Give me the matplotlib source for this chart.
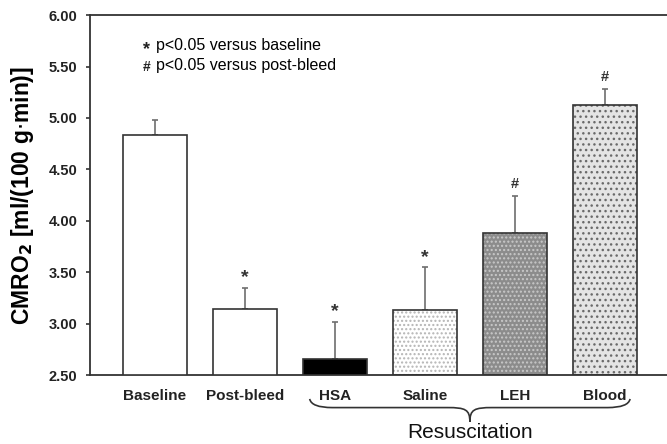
import matplotlib
matplotlib.use("Agg")
import matplotlib.pyplot as plt
from matplotlib.path import Path
from matplotlib.patches import PathPatch
import matplotlib.transforms as mtransforms
import numpy as np

# ── data ──
categories = ["Baseline", "Post-bleed", "HSA", "Saline", "LEH", "Blood"]
cmro2_mean = [4.83, 3.14, 2.66, 3.13, 3.88, 5.13]
cmro2_sd = [0.15, 0.21, 0.36, 0.42, 0.36, 0.15]
signif = ["", "*", "*", "*", "#", "#"]
group_label = "Resuscitation"
group_members = ["HSA", "Saline", "LEH", "Blood"]
yticks = [2.50, 3.00, 3.50, 4.00, 4.50, 5.00, 5.50, 6.00]

# ── style per bar: (face, hatch, hatch colour) ──
styles = [
    ("white", None, None),
    ("white", None, None),
    ("black", None, None),
    ("white", "....", "#b5b5b5"),
    ("#8c8c8c", "....", "#c9c9c9"),
    ("#e4e4e4", "...", "#6a6a6a"),
]

plt.rcParams["font.family"] = ["Liberation Sans", "DejaVu Sans"]
plt.rcParams["hatch.linewidth"] = 1.0

fig = plt.figure(figsize=(6.67, 4.44), dpi=100)
ax = fig.add_axes([0.135, 0.155, 0.865, 0.811])

x = np.arange(len(categories))
width = 0.71
edge = "#333333"

for i, (face, hatch, hcol) in enumerate(styles):
    if hatch:
        # hatch drawn on its own so its colour can differ from the outline
        ax.bar(x[i], cmro2_mean[i] - 2.5, width, bottom=2.5, color=face,
               hatch=hatch, edgecolor=hcol, linewidth=0, zorder=2)
        ax.bar(x[i], cmro2_mean[i] - 2.5, width, bottom=2.5, fill=False,
               edgecolor=edge, linewidth=1.2, zorder=3)
    else:
        ax.bar(x[i], cmro2_mean[i] - 2.5, width, bottom=2.5, color=face,
               edgecolor=edge, linewidth=1.2, zorder=3)

# upper error bars only
ax.errorbar(x, cmro2_mean, yerr=[np.zeros(len(x)), cmro2_sd], fmt="none",
            ecolor="#6e6e6e", elinewidth=1.2, capsize=2, capthick=1.2, zorder=1)

# significance marks
for i, m in enumerate(signif):
    if not m:
        continue
    top = cmro2_mean[i] + cmro2_sd[i]
    ax.annotate(m, (x[i], top), xytext=(0, 1 if m == "*" else 4),
                textcoords="offset points", ha="center", va="bottom",
                fontsize=14 if m == "*" else 10.5, fontweight="bold",
                color="#333333")

# legend text
ax.text(-0.09, 5.665, "*", fontsize=13, fontweight="bold", ha="center",
        va="center", color="#222222")
ax.text(0.01, 5.70, "p<0.05 versus baseline", fontsize=11.5, va="center")
ax.text(-0.09, 5.50, "#", fontsize=10, fontweight="bold", ha="center",
        va="center", color="#222222")
ax.text(0.01, 5.51, "p<0.05 versus post-bleed", fontsize=11.5, va="center")

ax.set_xlim(-0.72, 5.69)
ax.set_ylim(2.5, 6.0)
ax.set_yticks(yticks)
ax.set_yticklabels([f"{v:.2f}" for v in yticks], fontsize=10.5, fontweight="bold",
                   color="#222222")
ax.set_xticks(x)
ax.set_xticklabels(categories, fontsize=11, fontweight="bold", color="#222222")
ax.tick_params(axis="x", length=0, pad=10)
ax.tick_params(axis="y", length=3, width=1.2, color="#333333", pad=6)
ax.set_ylabel(r"CMRO$_\mathbf{2}$ [ml/(100 g$\cdot$min)]", fontsize=16.5,
              fontweight="bold", labelpad=9)

for s in ("top", "left", "bottom"):
    ax.spines[s].set_color("#333333")
    ax.spines[s].set_linewidth(1.3)
ax.spines["right"].set_visible(False)

# curly brace under the resuscitation group
i0 = categories.index(group_members[0])
i1 = categories.index(group_members[-1])
xl, xr = x[i0] - 0.28, x[i1] + 0.28
xm = (xl + xr) / 2
trans = mtransforms.blended_transform_factory(ax.transData, ax.transAxes)
yt, yh, yp = -0.066, -0.09, -0.13
verts = [
    (xl, yt), (xl + 0.02, yh), (xl + 0.25, yh),
    (xm - 0.25, yh),
    (xm - 0.05, yh), (xm, yh - 0.005), (xm, yp),
    (xm, yh - 0.005), (xm + 0.05, yh), (xm + 0.25, yh),
    (xr - 0.25, yh),
    (xr - 0.02, yh), (xr, yt),
]
codes = [Path.MOVETO, Path.CURVE3, Path.CURVE3,
         Path.LINETO,
         Path.CURVE4, Path.CURVE4, Path.CURVE4,
         Path.CURVE4, Path.CURVE4, Path.CURVE4,
         Path.LINETO,
         Path.CURVE3, Path.CURVE3]
brace = PathPatch(Path(verts, codes), fill=False, edgecolor="#333333",
                  linewidth=1.2, transform=trans, clip_on=False)
ax.add_patch(brace)
ax.text(xm, -0.175, group_label, transform=trans, ha="center", va="baseline",
        fontsize=15, color="#111111")

fig.savefig("out.png", dpi=100)
